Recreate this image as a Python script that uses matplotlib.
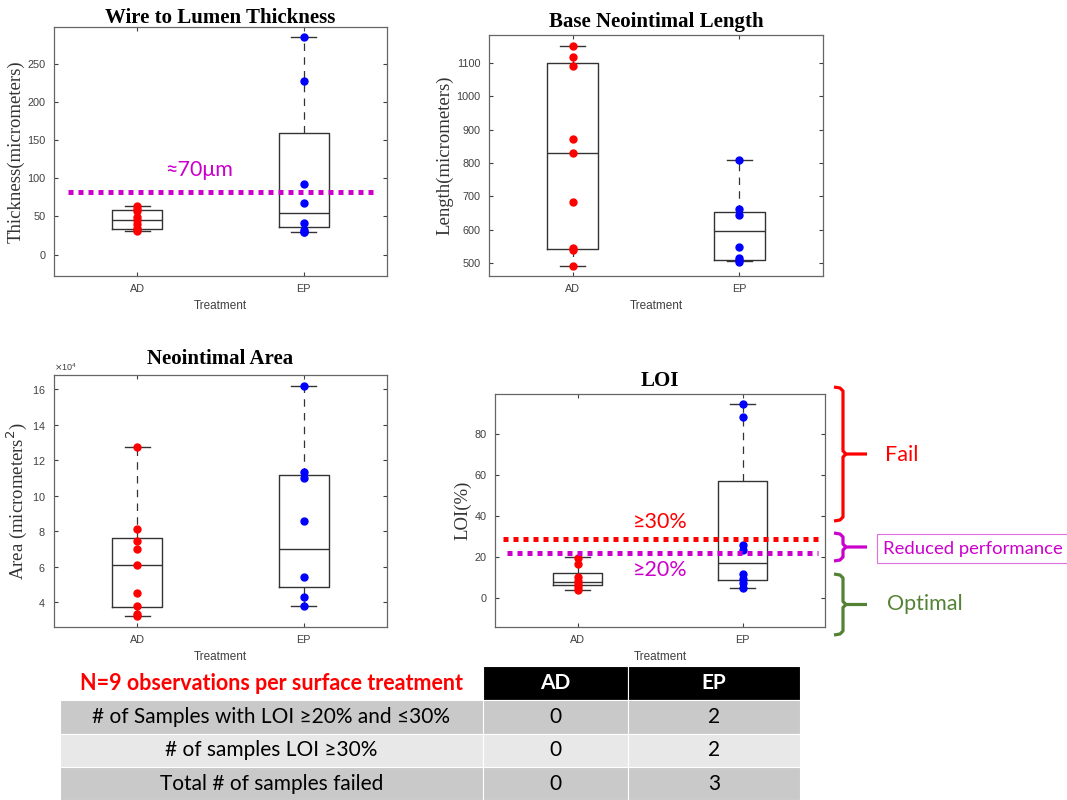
import numpy as np
import matplotlib
matplotlib.use("Agg")
from matplotlib import pyplot as plt
from matplotlib.patches import Rectangle
from matplotlib.ticker import MultipleLocator, ScalarFormatter

# ---- data ----
groups = ["AD", "EP"]

wire_ad = [63, 60, 57, 49, 45, 40, 35, 32, 31]
wire_ep = [285, 227, 92, 67, 41, 32, 30, 29]
wire_q1 = [33.7, 36.3]
wire_med = [45, 54.7]
wire_q3 = [58, 159.6]
wire_lo = [31, 29]
wire_hi = [63, 285]

length_ad = [1151, 1118, 1091, 872, 831, 683, 545, 540, 493]
length_ep = [808, 663, 644, 550, 515, 510, 504]
length_q1 = [544, 510]
length_med = [831, 598]
length_q3 = [1099, 653]
length_lo = [493, 506]
length_hi = [1151, 808]

area_ad = [12.72e4, 8.15e4, 7.42e4, 7.0e4, 6.12e4, 4.52e4, 3.79e4, 3.36e4, 3.21e4]
area_ep = [16.19e4, 11.32e4, 10.97e4, 8.56e4, 5.39e4, 4.30e4, 3.77e4]
area_q1 = [3.70e4, 4.85e4]
area_med = [6.12e4, 6.99e4]
area_q3 = [7.59e4, 11.14e4]
area_lo = [3.2e4, 3.77e4]
area_hi = [12.75e4, 16.2e4]

loi_ad = [19.8, 16.9, 10.4, 8.4, 7.1, 5.5, 3.9]
loi_ep = [94.5, 88.4, 26, 23.4, 11.7, 9.6, 7.5, 5.2]
loi_q1 = [6.7, 9.1]
loi_med = [8.1, 17.4]
loi_q3 = [12.5, 56.9]
loi_lo = [4, 5.2]
loi_hi = [20, 94.5]

wire_limit = 82
loi_fail = 28.8
loi_reduced = 22

table_rows = ["# of Samples with LOI \u226520% and \u226430%",
              "# of samples LOI \u226530%",
              "Total # of samples failed"]
table_ad = [0, 0, 0]
table_ep = [2, 2, 3]

W, H = 1067, 800
fig = plt.figure(figsize=(W / 100, H / 100), dpi=100)

serif = "Liberation Serif"
sans = "Liberation Sans"
calibri = "Lato"
magenta = "#CC00CC"
green = "#548235"
gray = "#404040"


def px_axes(l, t, r, b):
    return fig.add_axes([l / W, 1 - b / H, (r - l) / W, (b - t) / H])


def panel(ax, pts_ad, pts_ep, q1, med, q3, lo, hi, title, ylabel, ylim, step, title_pad):
    stats = [dict(med=med[i], q1=q1[i], q3=q3[i], whislo=lo[i], whishi=hi[i],
                  fliers=[], label=groups[i]) for i in range(2)]
    ax.bxp(stats, positions=[1, 2], widths=0.3, capwidths=0.15,
           boxprops=dict(color="#333333", lw=1.0),
           medianprops=dict(color="#333333", lw=1.0),
           whiskerprops=dict(color="#333333", lw=0.9, linestyle=(0, (6, 5))),
           capprops=dict(color="#333333", lw=1.0))
    ax.plot(np.ones(len(pts_ad)), pts_ad, "o", color="red", ms=5, zorder=4)
    ax.plot(np.full(len(pts_ep), 2), pts_ep, "o", color="blue", ms=5, zorder=4)
    ax.set_xlim(0.5, 2.5)
    ax.set_ylim(*ylim)
    ax.yaxis.set_major_locator(MultipleLocator(step))
    ax.set_xticks([1, 2], groups)
    ax.tick_params(direction="in", length=3, top=True, right=True,
                   labelsize=7.8, colors=gray, labelcolor=gray, pad=6)
    for lab in ax.get_xticklabels() + ax.get_yticklabels():
        lab.set_family(sans)
    for s in ax.spines.values():
        s.set_color("#666666")
        s.set_linewidth(0.9)
    ax.set_xlabel("Treatment", family=sans, fontsize=8.5, color=gray, labelpad=4)
    ax.set_ylabel(ylabel, family=serif, fontsize=13.5, color="#333333", labelpad=2)
    ax.set_title(title, family=serif, fontsize=15, fontweight="bold", y=1.0, pad=title_pad)


ax1 = px_axes(54, 27, 387, 276)
panel(ax1, wire_ad, wire_ep, wire_q1, wire_med, wire_q3, wire_lo, wire_hi,
      "Wire to Lumen Thickness", "Thickness(micrometers)", (-28, 298), 50, 3)
ax1.plot([0.585, 2.415], [wire_limit, wire_limit], color=magenta, lw=3.6,
         linestyle=(0, (1, 1)), zorder=5)
ax1.text(1.37, 111, "\u224870\u03bcm", color=magenta, family=calibri, fontsize=15.5,
         ha="center", va="center")

ax2 = px_axes(489, 35, 823, 276)
panel(ax2, length_ad, length_ep, length_q1, length_med, length_q3, length_lo, length_hi,
      "Base Neointimal Length", "Length(micrometers)", (462, 1183), 100, 6)

ax3 = px_axes(54, 375, 387, 627)
panel(ax3, area_ad, area_ep, area_q1, area_med, area_q3, area_lo, area_hi,
      "Neointimal Area", "Area (micrometers$^2$)", (2.6e4, 16.8e4), 2e4, 8)
fmt = ScalarFormatter(useMathText=True)
fmt.set_powerlimits((4, 4))
ax3.yaxis.set_major_formatter(fmt)
ax3.yaxis.get_offset_text().set(fontsize=6.5, color=gray, family=sans)

ax4 = px_axes(495, 394, 825, 627)
panel(ax4, loi_ad, loi_ep, loi_q1, loi_med, loi_q3, loi_lo, loi_hi,
      "LOI", "LOI(%)", (-14, 99.5), 20, 6)
ax4.plot([0.55, 2.46], [loi_fail, loi_fail], color="red", lw=3.6,
         linestyle=(0, (1, 1)), zorder=5)
ax4.plot([0.57, 2.46], [loi_reduced, loi_reduced], color=magenta, lw=3.6,
         linestyle=(0, (1, 1)), zorder=5)
ax4.text(1.5, 37, "\u226530%", color="red", family=calibri, fontsize=15.5,
         ha="center", va="center")
ax4.text(1.5, 13.7, "\u226520%", color=magenta, family=calibri, fontsize=15.5,
         ha="center", va="center")

# ---- overlay in pixel coordinates: brackets and table ----
ov = fig.add_axes([0, 0, 1, 1])
ov.set_xlim(0, W)
ov.set_ylim(H, 0)
ov.axis("off")


def bracket(top, bottom, color):
    mid = (top + bottom) / 2
    xs = [834, 840, 843, 843, 846, 867]
    ov.plot(xs, [top, top + 1, top + 4, mid - 3, mid, mid], color=color, lw=2.3,
            solid_capstyle="butt", solid_joinstyle="round")
    ov.plot([846, 843, 843, 840, 834], [mid, mid + 3, bottom - 4, bottom - 1, bottom],
            color=color, lw=2.3, solid_capstyle="butt", solid_joinstyle="round")


bracket(387, 521, "red")
bracket(533, 561, magenta)
bracket(574, 635, green)
ov.text(885, 455, "Fail", color="red", family=calibri, fontsize=15.5, va="center")
ov.text(883, 549, "Reduced performance", color=magenta, family=calibri, fontsize=13.3,
        va="center")
ov.add_patch(Rectangle((877, 534), 200, 29, fill=False, edgecolor="#E070E0", lw=0.8,
                       clip_on=False))
ov.text(887, 604, "Optimal", color=green, family=calibri, fontsize=15.5, va="center")

# table
col_x = [60, 483, 628, 800]
row_y = [666, 700, 733.5, 767, 800]
row_fill = ["#C9C9C9", "#E8E8E8", "#C9C9C9"]
ov.text(271, 684, "N=9 observations per surface treatment", color="red", family=calibri,
        fontsize=15.5, fontweight="bold", ha="center", va="center")
for j, name in enumerate(groups):
    ov.add_patch(Rectangle((col_x[j + 1], row_y[0]), col_x[j + 2] - col_x[j + 1],
                           row_y[1] - row_y[0], facecolor="black", edgecolor="white", lw=0.8))
    ov.text((col_x[j + 1] + col_x[j + 2]) / 2, (row_y[0] + row_y[1]) / 2, name,
            color="white", family=calibri, fontsize=15, fontweight="bold",
            ha="center", va="center")
for i, label in enumerate(table_rows):
    cells = [label, str(table_ad[i]), str(table_ep[i])]
    for j, txt in enumerate(cells):
        ov.add_patch(Rectangle((col_x[j], row_y[i + 1]), col_x[j + 1] - col_x[j],
                               row_y[i + 2] - row_y[i + 1], facecolor=row_fill[i],
                               edgecolor="white", lw=0.8))
        ov.text((col_x[j] + col_x[j + 1]) / 2, (row_y[i + 1] + row_y[i + 2]) / 2, txt,
                color="black", family=calibri, fontsize=15, ha="center", va="center")

fig.savefig("out.png", dpi=100)
